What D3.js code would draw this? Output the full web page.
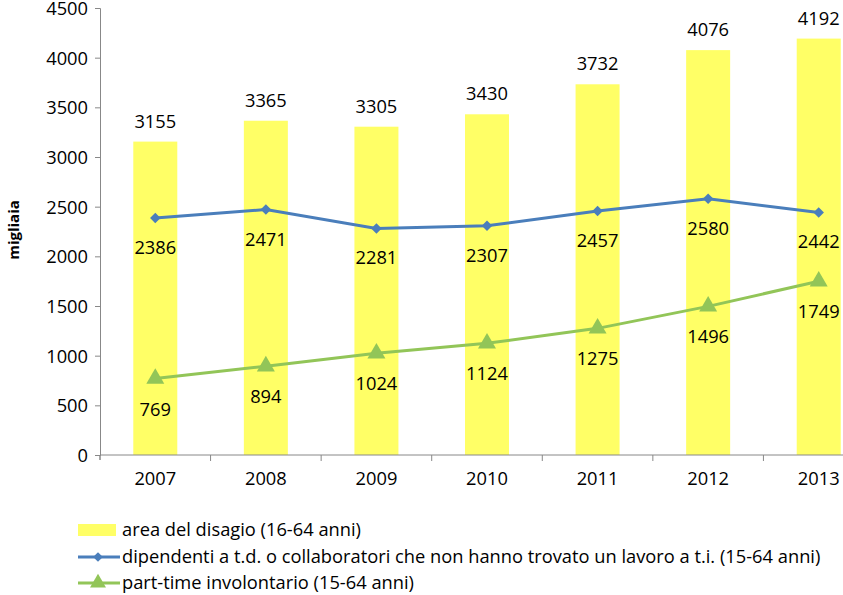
<!DOCTYPE html>
<html><head><meta charset="utf-8">
<script src="https://cdn.jsdelivr.net/npm/d3@7"></script>
<style>body{margin:0;background:#fff;}svg{display:block;font-family:"Open Sans",sans-serif;}</style>
</head><body>
<svg id="c" width="843" height="595"></svg>
<script>
const years = ["2007","2008","2009","2010","2011","2012","2013"];
const areaDisagio = [3155,3365,3305,3430,3732,4076,4192];
const dipendenti = [2386,2471,2281,2307,2457,2580,2442];
const partTime = [769,894,1024,1124,1275,1496,1749];
const yTicks = [0,500,1000,1500,2000,2500,3000,3500,4000,4500];
const seriesNames = ["area del disagio (16-64 anni)",
  "dipendenti a t.d. o collaboratori che non hanno trovato un lavoro a t.i. (15-64 anni)",
  "part-time involontario (15-64 anni)"];
const yellow="#FFFF66", blue="#4A7EBB", green="#92C558", axisCol="#888888";
const FONT="Open Sans";

const svg=d3.select("#c");
const xc=d3.scaleBand().domain(years).range([100,874]);
const y=d3.scaleLinear().domain([0,4500]).range([455,8]);
const fs=18.3;

// bars
svg.selectAll("rect.bar").data(areaDisagio).enter().append("rect")
  .attr("x",(d,i)=>xc(years[i])+xc.bandwidth()/2-22).attr("width",44)
  .attr("y",d=>y(d)).attr("height",d=>y(0)-y(d)).attr("fill",yellow);

// axes
const ya=svg.append("g").attr("transform","translate(100,0)")
  .call(d3.axisLeft(y).tickValues(yTicks).tickSize(5).tickPadding(7).tickFormat(d3.format("d")));
const xa=svg.append("g").attr("transform","translate(0,455)")
  .call(d3.axisBottom(xc).tickSize(0).tickPadding(17));
[ya,xa].forEach(g=>{g.selectAll("path,line").attr("stroke",axisCol);
  g.selectAll("text").attr("font-size",fs).attr("fill","#000").attr("font-family",FONT);});
ya.selectAll("text").attr("dy","0.36em");
xa.select("path.domain").attr("d","M100,0V5V0H874");
xa.selectAll("line.bt").data(years.slice(1)).enter().append("line").attr("class","bt")
  .attr("x1",d=>xc(d)).attr("x2",d=>xc(d)).attr("y1",0).attr("y2",6).attr("stroke",axisCol);

const cx=i=>xc(years[i])+xc.bandwidth()/2;
// lines
const line=d3.line().x((d,i)=>cx(i)).y(d=>y(d));
svg.append("path").datum(dipendenti).attr("d",line).attr("fill","none").attr("stroke",blue).attr("stroke-width",3);
svg.append("path").datum(partTime).attr("d",line).attr("fill","none").attr("stroke",green).attr("stroke-width",3);
svg.selectAll("path.dia").data(dipendenti).enter().append("path")
  .attr("d",d3.symbol().type(d3.symbolDiamond2).size(70)).attr("fill",blue)
  .attr("transform",(d,i)=>`translate(${cx(i)},${y(d)})`);
svg.selectAll("path.tri").data(partTime).enter().append("path")
  .attr("d",d3.symbol().type(d3.symbolTriangle).size(140)).attr("fill",green)
  .attr("transform",(d,i)=>`translate(${cx(i)},${y(d)})`);

// labels
const lab=(data,off,cls)=>svg.selectAll("text."+cls).data(data).enter().append("text").attr("class",cls)
  .attr("x",(d,i)=>cx(i)).attr("y",d=>y(d)+off).attr("text-anchor","middle")
  .attr("font-size",fs).attr("fill","#000").text(d=>d);
lab(areaDisagio,-14,"lb");
lab(dipendenti,36,"ld");
lab(partTime,37,"lp");

// y title
svg.append("text").attr("transform","translate(19,230) rotate(-90)").attr("text-anchor","middle")
  .attr("font-size",15).attr("font-weight","bold").text("migliaia");

// legend
const ly=[530,557,583];
svg.append("rect").attr("x",78).attr("y",ly[0]-6).attr("width",38).attr("height",12).attr("fill",yellow);
svg.append("line").attr("x1",78).attr("x2",120).attr("y1",ly[1]).attr("y2",ly[1]).attr("stroke",blue).attr("stroke-width",3);
svg.append("path").attr("d",d3.symbol().type(d3.symbolDiamond2).size(60)).attr("fill",blue).attr("transform",`translate(98,${ly[1]})`);
svg.append("line").attr("x1",78).attr("x2",120).attr("y1",ly[2]).attr("y2",ly[2]).attr("stroke",green).attr("stroke-width",3);
svg.append("path").attr("d",d3.symbol().type(d3.symbolTriangle).size(110)).attr("fill",green).attr("transform",`translate(98,${ly[2]})`);
svg.selectAll("text.leg").data(seriesNames).enter().append("text").attr("class","leg")
  .attr("x",122).attr("y",(d,i)=>ly[i]+6).attr("font-size",fs).attr("fill","#000").text(d=>d);
</script>
</body></html>
